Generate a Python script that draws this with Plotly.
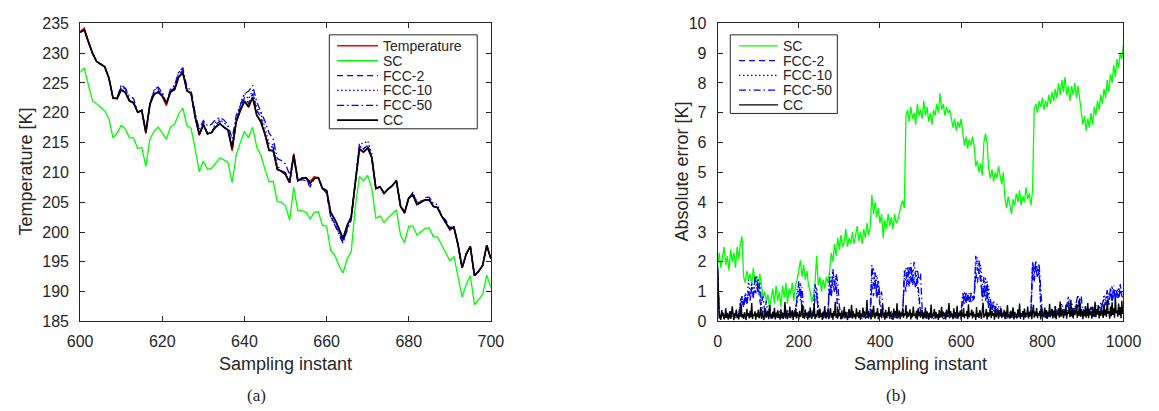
import plotly.graph_objects as go

W, H = 1159, 411

# ---------------- panel (a): tracking over sampling instants 600..700 ----------------
t_a = list(range(600, 701))

cc_a = [233.5, 233.9, 231.9, 230.0, 228.6, 228.2, 227.7, 225.8, 222.5, 222.4,
        223.9, 223.4, 222.0, 221.7, 220.1, 220.4, 216.7, 221.5, 223.1, 223.5,
        222.8, 221.6, 223.5, 223.9, 226.0, 226.7, 223.7, 223.3, 219.3, 216.4,
        218.0, 216.5, 216.7, 217.6, 218.2, 217.6, 217.1, 214.0, 218.5, 220.4,
        222.0, 221.0, 222.6, 219.6, 218.5, 216.4, 213.7, 213.7, 210.5, 210.2,
        209.7, 208.3, 212.9, 208.6, 209.0, 209.1, 208.2, 209.0, 209.1, 207.3,
        207.0, 203.3, 202.1, 200.6, 198.9, 201.1, 202.5, 208.3, 214.0, 213.4,
        214.1, 212.5, 207.3, 207.6, 206.5, 207.2, 207.8, 208.6, 204.3, 203.3,
        205.7, 206.2, 204.6, 205.0, 205.4, 205.4, 204.3, 204.1, 202.7, 201.6,
        200.5, 200.8, 197.9, 194.0, 196.3, 197.6, 192.7, 193.4, 194.4, 197.8,
        195.5]

temperature = [233.6, 234.2, 232.0, 230.0, 228.6, 228.2, 227.7, 225.9, 222.4, 222.4,
               223.8, 223.4, 222.0, 221.6, 220.1, 220.3, 216.5, 221.4, 223.1, 223.4,
               222.8, 221.2, 223.5, 223.9, 226.0, 226.8, 223.7, 223.2, 219.3, 216.2,
               218.0, 216.4, 216.7, 217.6, 218.2, 217.5, 217.1, 213.6, 218.5, 220.4,
               221.8, 221.0, 222.6, 219.6, 218.4, 216.4, 213.7, 213.6, 210.6, 210.2,
               209.6, 208.3, 213.2, 208.6, 209.1, 209.1, 208.5, 209.3, 209.1, 207.3,
               206.9, 203.3, 202.1, 200.6, 198.7, 201.1, 202.5, 208.3, 213.8, 213.4,
               214.1, 212.5, 207.3, 207.6, 206.5, 207.2, 207.8, 208.6, 204.3, 203.1,
               205.7, 206.2, 204.6, 205.2, 205.4, 205.4, 204.3, 204.1, 202.7, 201.6,
               200.3, 200.8, 197.9, 194.0, 196.3, 197.6, 192.7, 193.4, 194.4, 197.8,
               195.5]

sc_a = [226.8, 227.5, 224.7, 222.0, 221.5, 220.9, 220.3, 219.0, 215.8, 216.6,
        217.9, 217.3, 215.8, 215.8, 214.0, 214.2, 211.0, 215.6, 216.9, 217.6,
        216.6, 215.6, 217.6, 218.1, 219.8, 220.8, 217.8, 217.4, 214.0, 210.1,
        211.9, 210.5, 210.7, 211.6, 212.4, 212.1, 211.7, 208.3, 212.9, 215.0,
        216.9, 215.8, 217.6, 214.2, 212.9, 210.5, 208.4, 208.5, 205.1, 205.0,
        204.4, 202.0, 207.5, 203.6, 203.6, 203.3, 202.2, 203.3, 203.4, 201.1,
        201.0, 196.9, 196.1, 194.4, 193.1, 195.5, 196.7, 204.3, 209.3, 208.6,
        209.5, 207.3, 202.3, 202.7, 201.6, 202.4, 203.1, 203.7, 199.5, 198.2,
        201.0, 201.0, 199.5, 200.0, 200.6, 200.7, 199.2, 199.2, 197.9, 196.6,
        195.2, 195.9, 192.5, 189.1, 191.2, 192.7, 187.8, 188.7, 189.5, 192.8,
        190.7]

fcc2_a = [233.5, 233.9, 231.9, 230.0, 228.6, 228.2, 227.7, 225.8, 222.5, 222.4,
          224.4, 224.0, 222.0, 221.7, 220.1, 220.4, 216.9, 221.5, 223.5, 223.9,
          222.8, 221.6, 223.5, 224.3, 226.4, 227.1, 223.7, 223.3, 219.3, 216.4,
          218.4, 216.5, 216.7, 218.0, 218.6, 217.6, 217.1, 214.2, 218.5, 220.9,
          222.5, 221.6, 223.2, 220.4, 219.2, 216.4, 214.4, 214.2, 210.5, 210.2,
          210.0, 208.3, 212.9, 208.6, 208.8, 208.6, 207.6, 209.0, 209.1, 207.3,
          206.5, 202.6, 201.4, 199.9, 198.3, 200.6, 202.5, 208.3, 214.5, 213.9,
          214.6, 212.5, 207.3, 207.6, 206.5, 207.2, 207.8, 208.6, 204.3, 203.3,
          205.7, 206.6, 204.6, 205.0, 205.8, 205.8, 204.3, 204.1, 202.7, 201.9,
          200.8, 200.8, 197.9, 194.0, 196.3, 197.6, 192.7, 193.4, 194.4, 197.8,
          195.5]

fcc10_a = [233.5, 233.9, 231.9, 230.0, 228.6, 228.2, 227.7, 225.8, 222.5, 222.4,
           224.6, 224.2, 222.0, 221.7, 220.1, 220.4, 216.9, 221.5, 223.8, 224.2,
           223.3, 221.6, 223.5, 224.6, 226.8, 227.3, 223.7, 223.3, 219.3, 216.4,
           218.0, 216.5, 216.7, 218.4, 218.9, 218.3, 217.7, 214.4, 218.5, 221.5,
           223.3, 222.3, 223.8, 220.9, 219.8, 217.5, 214.8, 214.6, 211.2, 210.2,
           209.7, 208.3, 212.9, 208.6, 209.0, 209.1, 208.2, 209.0, 209.1, 207.3,
           207.0, 202.8, 201.5, 200.0, 198.4, 201.1, 202.5, 208.3, 214.9, 214.8,
           215.3, 213.2, 207.3, 207.6, 206.5, 207.2, 207.8, 208.6, 204.3, 203.3,
           205.7, 206.7, 205.0, 205.0, 205.4, 205.9, 204.8, 204.6, 202.7, 201.6,
           200.5, 200.8, 197.9, 194.0, 196.3, 197.6, 192.7, 193.4, 194.4, 197.8,
           195.5]

fcc50_a = [233.5, 233.9, 231.9, 230.0, 228.6, 228.2, 227.7, 225.8, 222.5, 222.4,
           224.7, 224.1, 222.8, 222.4, 220.1, 220.4, 216.9, 221.5, 223.9, 224.3,
           223.4, 221.6, 224.0, 224.6, 226.9, 227.5, 224.3, 223.8, 220.0, 217.2,
           218.7, 217.8, 218.1, 218.9, 219.2, 218.8, 218.0, 215.6, 219.6, 221.2,
           223.2, 223.6, 224.6, 221.8, 220.3, 218.6, 216.6, 215.6, 212.3, 212.0,
           211.4, 209.6, 212.4, 208.6, 209.0, 209.1, 207.7, 209.0, 209.1, 207.3,
           207.0, 202.4, 201.2, 199.6, 198.1, 200.3, 202.0, 208.3, 214.4, 214.0,
           214.5, 212.5, 207.3, 207.6, 206.5, 207.2, 207.8, 208.6, 204.6, 203.3,
           205.7, 206.5, 205.0, 205.0, 205.4, 205.4, 204.3, 204.1, 202.7, 202.0,
           200.5, 200.8, 197.9, 194.0, 196.3, 197.6, 192.7, 193.4, 194.4, 197.8,
           195.5]

# ---------------- panel (b): absolute error over sampling instants 0..1000 ----------------
# SC and FCC errors listed every 4th instant, CC error every 2nd instant
t_b4 = list(range(0, 1001, 4))
t_b2 = list(range(0, 1001, 2))

sc_b = [1.9, 2.3, 1.8, 2.1, 2.5, 1.9, 2.2, 1.7, 2.4, 2.0, 2.3, 1.8, 2.5, 2.1, 2.6, 2.85, 1.5, 1.3, 1.7, 1.4, 1.6, 1.2, 1.8, 1.3, 1.5,
        1.1, 1.6, 1.2, 0.8, 1.0, 0.7, 0.9, 0.45, 0.8, 1.1, 0.6, 1.2, 0.7, 1.0, 0.5, 1.2, 0.8, 1.3, 0.6, 1.1, 0.9, 1.3, 0.7, 1.2, 1.4,
        1.7, 2.05, 1.5, 1.9, 1.4, 1.7, 1.2, 1.0, 0.65, 0.9, 1.3, 2.2, 1.2, 1.5, 1.0, 1.4, 1.1, 1.5, 1.3, 1.7, 2.3, 2.0, 2.6, 2.2, 2.8,
        2.4, 2.9, 2.5, 2.7, 3.1, 2.5, 2.8, 2.6, 3.0, 2.6, 2.9, 3.2, 2.7, 3.0, 2.6, 3.1, 2.8, 3.3, 2.9, 3.2, 4.25, 3.6, 4.0, 3.5, 3.8,
        3.3, 3.6, 2.8, 3.4, 3.1, 3.6, 3.2, 3.5, 3.1, 3.6, 3.3, 3.4, 3.7, 3.9, 4.05, 3.8, 6.9, 7.1, 6.7, 7.2, 6.8, 7.0, 6.6, 7.3, 6.9,
        7.1, 6.8, 7.4, 6.9, 7.2, 6.7, 7.0, 6.6, 7.1, 6.9, 7.3, 7.0, 7.65, 7.1, 7.3, 6.9, 7.2, 7.0, 7.1, 6.8, 6.5, 6.8, 6.4, 6.7, 6.5,
        6.8, 6.4, 5.9, 6.2, 5.8, 6.1, 5.9, 6.2, 5.9, 5.2, 5.4, 5.0, 5.3, 4.9, 6.0, 6.3, 6.0, 5.1, 4.8, 5.1, 4.7, 5.0, 4.8, 5.2, 4.9,
        4.6, 5.0, 4.1, 3.8, 4.2, 3.9, 3.6, 4.1, 3.9, 4.3, 4.0, 4.4, 3.9, 4.2, 4.0, 4.5, 4.1, 4.3, 3.9, 4.4, 7.1, 7.3, 7.0, 7.4, 7.2,
        7.5, 7.1, 7.4, 7.2, 7.6, 7.3, 7.7, 7.4, 7.8, 7.5, 8.0, 7.6, 8.1, 7.7, 8.2, 7.6, 7.9, 7.4, 7.9, 7.6, 8.0, 7.5, 7.9, 7.4, 7.1,
        6.6, 6.9, 6.4, 6.8, 6.5, 7.0, 6.6, 7.2, 6.9, 7.4, 7.1, 7.6, 7.3, 7.8, 7.5, 8.1, 7.7, 8.3, 8.0, 8.6, 8.2, 8.8, 8.5, 9.0, 8.8,
        9.3]

fcc2_b = [1.60, 0.25, 0.12, 0.30, 0.16, 0.09, 0.26, 0.14, 0.33, 0.18, 0.12, 0.28, 0.20, 0.15, 0.55, 0.75, 0.45, 0.85, 0.55, 1.00, 0.70, 1.15, 0.80, 1.05, 0.90,
          1.20, 0.70, 0.40, 0.25, 0.12, 0.30, 0.18, 0.22, 0.10, 0.28, 0.15, 0.25, 0.12, 0.32, 0.20, 0.14, 0.30, 0.10, 0.26, 0.18, 0.22, 0.14, 0.30, 0.45, 0.70,
          0.90, 1.10, 0.35, 0.22, 0.12, 0.28, 0.16, 0.25, 0.10, 0.30, 0.80, 0.95, 0.40, 0.15, 0.25, 0.30, 0.12, 0.22, 0.35, 1.15, 0.80, 1.35, 0.95, 1.25, 0.30,
          0.18, 0.10, 0.25, 0.14, 0.22, 0.30, 0.12, 0.20, 0.28, 0.16, 0.24, 0.10, 0.30, 0.18, 0.22, 0.14, 0.26, 0.12, 0.28, 0.20, 1.25, 0.85, 1.40, 0.75, 1.10,
          0.50, 0.18, 0.26, 0.12, 0.22, 0.30, 0.14, 0.20, 0.28, 0.10, 0.25, 0.30, 0.16, 0.22, 0.35, 1.35, 1.00, 1.60, 1.15, 1.55, 1.20, 1.45, 1.10, 1.50, 0.80,
          0.30, 0.16, 0.22, 0.10, 0.28, 0.18, 0.24, 0.12, 0.20, 0.26, 0.14, 0.22, 0.10, 0.28, 0.16, 0.20, 0.30, 0.12, 0.18, 0.24, 0.15, 0.26, 0.10, 0.22, 0.28,
          0.28, 0.65, 0.85, 0.60, 0.95, 0.65, 0.90, 0.70, 0.80, 1.65, 1.30, 1.75, 1.40, 0.90, 1.15, 0.70, 1.00, 0.45, 0.60, 0.35, 0.55, 0.30, 0.45, 0.25, 0.35,
          0.16, 0.24, 0.10, 0.28, 0.18, 0.12, 0.22, 0.30, 0.14, 0.20, 0.10, 0.26, 0.18, 0.30, 0.20, 0.12, 0.24, 0.16, 0.28, 1.65, 1.30, 1.85, 1.45, 1.70, 0.60,
          0.22, 0.15, 0.30, 0.18, 0.25, 0.12, 0.35, 0.20, 0.30, 0.45, 0.25, 0.35, 0.20, 0.45, 0.30, 0.60, 0.40, 0.75, 0.50, 0.35, 0.25, 0.40, 0.55, 0.30, 0.45,
          0.20, 0.30, 0.45, 0.22, 0.35, 0.28, 0.40, 0.25, 0.55, 0.30, 0.45, 0.30, 0.60, 0.75, 0.55, 0.85, 0.65, 0.90, 0.70, 1.00, 0.80, 0.95, 0.75, 1.05, 0.85,
          0.80]

fcc10_b = [1.70, 0.22, 0.14, 0.30, 0.10, 0.26, 0.18, 0.09, 0.32, 0.15, 0.24, 0.12, 0.28, 0.20, 0.65, 0.80, 0.60, 0.95, 0.70, 1.40, 0.90, 1.30, 0.85, 1.50, 1.10,
           1.45, 0.95, 0.55, 0.35, 0.20, 0.12, 0.30, 0.16, 0.25, 0.10, 0.22, 0.14, 0.35, 0.18, 0.28, 0.11, 0.24, 0.16, 0.40, 0.12, 0.30, 0.18, 0.26, 0.20, 1.10,
           1.00, 1.30, 0.45, 0.18, 0.30, 0.12, 0.25, 0.15, 0.38, 0.20, 0.95, 1.15, 0.50, 0.20, 0.28, 0.14, 0.35, 0.10, 0.22, 1.60, 1.15, 1.75, 1.25, 1.55, 0.35,
           0.15, 0.28, 0.10, 0.22, 0.30, 0.12, 0.25, 0.18, 0.09, 0.26, 0.14, 0.33, 0.19, 0.28, 0.12, 0.24, 0.16, 0.30, 0.10, 0.22, 1.50, 1.80, 1.10, 1.55, 1.25,
           0.70, 0.25, 0.14, 0.30, 0.10, 0.22, 0.16, 0.35, 0.12, 0.25, 0.18, 0.40, 0.14, 0.28, 0.20, 1.55, 1.80, 1.25, 1.85, 1.40, 1.75, 1.30, 1.70, 1.20, 0.60,
           0.25, 0.12, 0.30, 0.18, 0.10, 0.27, 0.15, 0.22, 0.08, 0.30, 0.16, 0.12, 0.25, 0.18, 0.28, 0.10, 0.22, 0.15, 0.30, 0.12, 0.20, 0.26, 0.14, 0.24, 0.18,
           0.20, 0.80, 1.00, 0.60, 0.90, 0.65, 1.00, 0.75, 0.85, 1.95, 2.15, 1.55, 1.90, 1.25, 0.80, 1.50, 0.65, 1.20, 0.40, 0.65, 0.30, 0.55, 0.30, 0.50, 0.25,
           0.20, 0.28, 0.12, 0.22, 0.15, 0.30, 0.10, 0.25, 0.18, 0.14, 0.28, 0.12, 0.22, 0.16, 0.30, 0.11, 0.24, 0.18, 0.30, 2.00, 1.55, 1.95, 1.50, 1.85, 0.40,
           0.18, 0.30, 0.12, 0.26, 0.15, 0.35, 0.20, 0.28, 0.55, 0.18, 0.40, 0.22, 0.60, 0.30, 0.25, 0.50, 0.85, 0.35, 0.70, 0.25, 0.45, 0.30, 0.60, 0.20, 0.40,
           0.45, 0.20, 0.38, 0.15, 0.30, 0.22, 0.50, 0.18, 0.32, 0.40, 0.30, 0.65, 0.50, 0.90, 0.70, 1.00, 0.85, 0.95, 1.20, 0.75, 1.05, 0.80, 1.15, 0.90, 1.00,
           0.90]

fcc50_b = [1.80, 0.30, 0.12, 0.25, 0.08, 0.30, 0.15, 0.22, 0.10, 0.28, 0.14, 0.20, 0.33, 0.16, 0.70, 0.85, 0.55, 0.90, 0.60, 1.00, 0.75, 1.10, 0.80, 1.45, 1.55,
           1.00, 1.30, 0.60, 0.85, 0.30, 0.70, 0.20, 0.55, 0.15, 0.30, 0.12, 0.25, 0.18, 0.35, 0.10, 0.28, 0.16, 0.40, 0.12, 0.26, 0.20, 0.34, 0.14, 0.30, 0.95,
           1.35, 0.70, 1.15, 0.40, 0.18, 0.30, 0.12, 0.25, 0.16, 0.35, 1.25, 0.85, 0.30, 0.14, 0.26, 0.10, 0.32, 0.18, 0.40, 1.45, 1.00, 1.75, 1.20, 1.60, 1.30,
           0.50, 0.22, 0.12, 0.30, 0.18, 0.08, 0.26, 0.15, 0.35, 0.20, 0.12, 0.30, 0.16, 0.24, 0.10, 0.35, 0.18, 0.28, 0.14, 0.40, 1.90, 1.20, 1.65, 0.95, 1.40,
           0.80, 1.00, 0.35, 0.20, 0.12, 0.32, 0.18, 0.08, 0.27, 0.15, 0.22, 0.10, 0.30, 0.16, 0.25, 1.70, 1.35, 1.85, 1.45, 1.95, 1.35, 2.00, 1.50, 1.75, 1.40,
           1.60, 0.40, 0.12, 0.30, 0.16, 0.08, 0.25, 0.14, 0.32, 0.18, 0.10, 0.28, 0.15, 0.22, 0.07, 0.30, 0.17, 0.12, 0.26, 0.20, 0.10, 0.24, 0.15, 0.30, 0.18,
           0.35, 0.95, 0.60, 1.00, 0.70, 0.95, 0.65, 0.90, 0.75, 2.20, 1.70, 2.05, 1.60, 0.70, 1.50, 0.85, 1.35, 0.50, 0.75, 0.35, 0.70, 0.40, 0.60, 0.30, 0.50,
           0.30, 0.15, 0.25, 0.10, 0.20, 0.08, 0.28, 0.14, 0.22, 0.12, 0.18, 0.30, 0.10, 0.25, 0.15, 0.32, 0.12, 0.26, 0.40, 2.00, 1.60, 2.05, 1.70, 1.95, 0.90,
           0.30, 0.14, 0.25, 0.10, 0.32, 0.18, 0.45, 0.22, 0.12, 0.35, 0.20, 0.55, 0.28, 0.15, 0.40, 0.25, 0.65, 0.30, 0.50, 0.20, 0.45, 0.70, 0.90, 0.30, 0.85,
           0.25, 0.40, 0.18, 0.35, 0.22, 0.50, 0.30, 0.15, 0.45, 0.28, 0.55, 0.35, 0.60, 0.40, 0.75, 1.05, 0.55, 1.15, 0.65, 1.20, 0.70, 1.10, 0.80, 1.25, 0.90,
           0.85]

cc_b = [1.85, 0.32, 0.10, 0.21, 0.05, 0.38, 0.17, 0.26, 0.08, 0.14, 0.44, 0.12, 0.29, 0.06, 0.19, 0.35, 0.09, 0.23, 0.51, 0.15, 0.04, 0.27, 0.18, 0.40, 0.11,
        0.22, 0.07, 0.33, 0.16, 0.58, 0.13, 0.25, 0.09, 0.31, 0.20, 0.05, 0.42, 0.17, 0.28, 0.10, 0.36, 0.14, 0.62, 0.08, 0.24, 0.19, 0.34, 0.06, 0.27, 0.15,
        0.39, 0.11, 0.21, 0.48, 0.09, 0.30, 0.16, 0.05, 0.26, 0.43, 0.13, 0.20, 0.35, 0.08, 0.55, 0.18, 0.24, 0.10, 0.32, 0.14, 0.46, 0.07, 0.29, 0.19, 0.37,
        0.12, 0.25, 0.06, 0.41, 0.17, 0.30, 0.09, 0.22, 0.65, 0.14, 0.33, 0.08, 0.27, 0.18, 0.50, 0.11, 0.23, 0.38, 0.05, 0.29, 0.16, 0.44, 0.10, 0.31, 0.20,
        0.07, 0.36, 0.15, 0.24, 0.57, 0.12, 0.28, 0.09, 0.40, 0.18, 0.26, 0.06, 0.34, 0.13, 0.47, 0.21, 0.10, 0.31, 0.17, 0.60, 0.08, 0.25, 0.14, 0.38, 0.19,
        0.11, 0.43, 0.16, 0.27, 0.05, 0.33, 0.22, 0.52, 0.10, 0.30, 0.15, 0.39, 0.08, 0.24, 0.45, 0.13, 0.28, 0.06, 0.35, 0.18, 0.66, 0.12, 0.26, 0.09, 0.41,
        0.17, 0.29, 0.07, 0.37, 0.14, 0.23, 0.49, 0.10, 0.32, 0.19, 0.05, 0.27, 0.42, 0.13, 0.21, 0.56, 0.09, 0.34, 0.16, 0.25, 0.08, 0.44, 0.18, 0.30, 0.11,
        0.38, 0.06, 0.26, 0.15, 0.47, 0.20, 0.33, 0.09, 0.28, 0.72, 0.12, 0.36, 0.17, 0.24, 0.07, 0.40, 0.14, 0.53, 0.22, 0.10, 0.31, 0.18, 0.45, 0.08, 0.27,
        0.16, 0.34, 0.11, 0.58, 0.19, 0.25, 0.06, 0.39, 0.13, 0.29, 0.21, 0.48, 0.09, 0.32, 0.15, 0.26, 0.05, 0.43, 0.18, 0.35, 0.10, 0.61, 0.14, 0.23, 0.37,
        0.08, 0.30, 0.17, 0.46, 0.12, 0.27, 0.20, 0.55, 0.09, 0.33, 0.16, 0.24, 0.41, 0.07, 0.29, 0.14, 0.50, 0.19, 0.26, 0.11, 0.36, 0.06, 0.44, 0.18, 0.31,
        0.13, 0.25, 0.39, 0.08, 0.28, 0.17, 0.47, 0.10, 0.34, 0.21, 0.06, 0.30, 0.15, 0.57, 0.12, 0.26, 0.19, 0.42, 0.09, 0.32, 0.16, 0.24, 0.05, 0.38, 0.14,
        0.27, 0.49, 0.11, 0.33, 0.18, 0.23, 0.07, 0.40, 0.15, 0.29, 0.62, 0.10, 0.35, 0.20, 0.26, 0.08, 0.44, 0.13, 0.31, 0.17, 0.53, 0.09, 0.28, 0.22, 0.37,
        0.06, 0.30, 0.16, 0.45, 0.11, 0.25, 0.19, 0.36, 0.08, 0.58, 0.14, 0.27, 0.21, 0.40, 0.10, 0.33, 0.17, 0.24, 0.05, 0.48, 0.15, 0.29, 0.12, 0.38, 0.20,
        0.09, 0.34, 0.63, 0.13, 0.26, 0.18, 0.42, 0.07, 0.31, 0.16, 0.23, 0.51, 0.11, 0.35, 0.19, 0.28, 0.06, 0.44, 0.14, 0.25, 0.37, 0.09, 0.30, 0.17, 0.46,
        0.12, 0.27, 0.20, 0.39, 0.08, 0.33, 0.15, 0.55, 0.18, 0.24, 0.10, 0.36, 0.13, 0.29, 0.47, 0.07, 0.32, 0.21, 0.26, 0.11, 0.41, 0.16, 0.60, 0.09, 0.28,
        0.19, 0.35, 0.06, 0.43, 0.14, 0.27, 0.22, 0.50, 0.10, 0.31, 0.17, 0.38, 0.08, 0.25, 0.56, 0.13, 0.33, 0.18, 0.45, 0.11, 0.29, 0.20, 0.36, 0.07, 0.52,
        0.15, 0.30, 0.24, 0.47, 0.12, 0.38, 0.09, 0.33, 0.21, 0.59, 0.14, 0.27, 0.42, 0.10, 0.35, 0.18, 0.50, 0.08, 0.31, 0.23, 0.44, 0.13, 0.67, 0.16, 0.29,
        0.40, 0.11, 0.36, 0.20, 0.54, 0.09, 0.32, 0.26, 0.48, 0.14, 0.70, 0.17, 0.38, 0.10, 0.45, 0.22, 0.30, 0.58, 0.12, 0.35, 0.19, 0.77, 0.15, 0.41, 0.24,
        0.08, 0.37, 0.18, 0.52, 0.13, 0.30, 0.62, 0.11, 0.43, 0.21, 0.34, 0.09, 0.49, 0.16, 0.28, 0.66, 0.14, 0.39, 0.23, 0.55, 0.10, 0.33, 0.19, 0.46, 0.27,
        0.12, 0.58, 0.20, 0.40, 0.15, 0.73, 0.26, 0.35, 0.09, 0.50, 0.18, 0.64, 0.22, 0.44, 0.13, 0.82, 0.28, 0.37, 0.16, 0.60, 0.21, 0.48, 0.11, 0.69, 0.25,
        0.40]

for _s in (sc_b, fcc2_b, fcc10_b, fcc50_b):
    assert len(_s) == len(t_b4)
assert len(cc_b) == len(t_b2)

# ---------------- styling ----------------
RED, GREEN, BLUE, BLACK = "rgb(255,0,0)", "rgb(0,255,0)", "rgb(0,0,255)", "rgb(0,0,0)"
DASH, DOT, DASHDOT = "6px,4px", "1.5px,2.5px", "7px,3px,1.5px,3px"
AXC = "#262626"
SANS = "Liberation Sans, Arial, sans-serif"
SERIF = "Liberation Serif, Times New Roman, serif"


def px(x):
    return x / W


def py(y):
    return 1 - y / H


fig = go.Figure()

series_a = [
    ("Temperature", t_a, temperature, RED, "solid", 1.5),
    ("SC", t_a, sc_a, GREEN, "solid", 1.3),
    ("FCC-2", t_a, fcc2_a, BLUE, DASH, 1.3),
    ("FCC-10", t_a, fcc10_a, BLUE, DOT, 1.3),
    ("FCC-50", t_a, fcc50_a, BLUE, DASHDOT, 1.3),
    ("CC", t_a, cc_a, BLACK, "solid", 1.7),
]
for name, xs, vals, col, dash, lw in series_a:
    fig.add_trace(go.Scatter(x=xs, y=vals, mode="lines", name=name, showlegend=False,
                             line=dict(color=col, dash=dash, width=lw),
                             xaxis="x", yaxis="y"))

series_b = [
    ("SC", t_b4, sc_b, GREEN, "solid", 1.3),
    ("FCC-2", t_b4, fcc2_b, BLUE, DASH, 1.3),
    ("FCC-10", t_b4, fcc10_b, BLUE, DOT, 1.3),
    ("FCC-50", t_b4, fcc50_b, BLUE, DASHDOT, 1.3),
    ("CC", t_b2, cc_b, BLACK, "solid", 1.4),
]
for name, xs, vals, col, dash, lw in series_b:
    fig.add_trace(go.Scatter(x=xs, y=vals, mode="lines", name=name, showlegend=False,
                             line=dict(color=col, dash=dash, width=lw),
                             xaxis="x2", yaxis="y2"))

axis_common = dict(showline=True, linecolor=AXC, linewidth=1, mirror="ticks",
                   ticks="inside", ticklen=5, tickcolor=AXC, tickwidth=1,
                   showgrid=False, zeroline=False,
                   tickfont=dict(family=SANS, size=16, color=AXC))

ydom = [py(327), py(16)]
fig.update_layout(
    width=W, height=H,
    margin=dict(l=0, r=0, t=0, b=0),
    paper_bgcolor="white", plot_bgcolor="white",
    showlegend=False,
    xaxis=dict(domain=[px(69), px(491)], range=[600, 700], tickvals=list(range(600, 701, 20)),
               anchor="y", ticklabelstandoff=5, **axis_common),
    yaxis=dict(domain=ydom, range=[185, 235], tickvals=list(range(185, 236, 5)),
               anchor="x", ticklabelstandoff=7, **axis_common),
    xaxis2=dict(domain=[px(724), px(1141)], range=[0, 1000], tickvals=list(range(0, 1001, 200)),
                anchor="y2", ticklabelstandoff=5, **axis_common),
    yaxis2=dict(domain=ydom, range=[0, 10], tickvals=list(range(0, 11)),
                anchor="x2", ticklabelstandoff=7, **axis_common),
)

shapes = []
annotations = []


def text(x, y, s, size, family=SANS, angle=0, anchor="center"):
    annotations.append(dict(x=px(x), y=py(y), xref="paper", yref="paper", text=s,
                            showarrow=False, textangle=angle, xanchor=anchor, yanchor="middle",
                            font=dict(family=family, size=size, color=AXC)))


# axis titles and captions
text(280, 371, "Sampling instant", 18)
text(932, 371, "Sampling instant", 18)
text(13, 171, "Temperature [K]", 18, angle=-90)
text(687, 171, "Absolute error [K]", 18, angle=-90)
text(250, 404, "(a)", 17, family=SERIF)
text(907, 404, "(b)", 17, family=SERIF)


def legend_box(x0, y0, x1, y1, entries, lx0, lx1, tx, row0, step):
    shapes.append(dict(type="rect", xref="paper", yref="paper",
                       x0=px(x0), x1=px(x1), y0=py(y1), y1=py(y0),
                       line=dict(color=AXC, width=1), fillcolor="white", layer="above"))
    for i, (name, _xs, _vals, col, dash, lw) in enumerate(entries):
        yy = row0 + i * step
        shapes.append(dict(type="line", xref="paper", yref="paper",
                           x0=px(lx0), x1=px(lx1), y0=py(yy), y1=py(yy), layer="above",
                           line=dict(color=col, dash=dash, width=max(lw, 1.3))))
        text(tx, yy, name, 14, anchor="left")


legend_box(325, 28, 477, 126, series_a, 333, 375, 378, 39.5, 15.5)
legend_box(737, 28, 847, 110, series_b, 746, 786, 789, 39.5, 15.4)

fig.update_layout(shapes=shapes, annotations=annotations)
fig.write_html("out.html")
